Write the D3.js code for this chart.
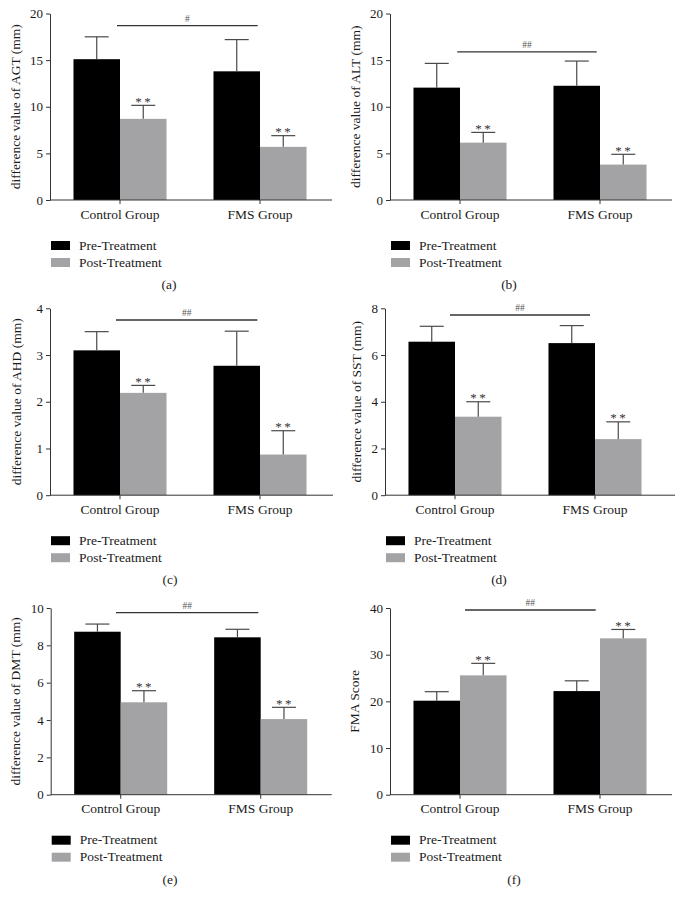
<!DOCTYPE html>
<html><head><meta charset="utf-8">
<script src="https://cdn.jsdelivr.net/npm/d3@7"></script>
<style>
html,body{margin:0;padding:0;background:#fff;}
text{font-family:"Liberation Serif","Times New Roman",serif;fill:#1a1a1a;}
</style></head>
<body><svg id="c" width="680" height="905"></svg>
<script>
// ---------- data ----------
const groups = ["Control Group", "FMS Group"];
const seriesNames = ["Pre-Treatment", "Post-Treatment"];
const seriesColors = ["#000000", "#a3a3a5"];
const panelLetters = ["(a)", "(b)", "(c)", "(d)", "(e)", "(f)"];
const yLabels = ["difference value of AGT (mm)", "difference value of ALT (mm)",
  "difference value of AHD (mm)", "difference value of SST (mm)",
  "difference value of DMT (mm)", "FMA Score"];
const yMax = [20, 20, 4, 8, 10, 40];
const yTicks = [[0,5,10,15,20],[0,5,10,15,20],[0,1,2,3,4],[0,2,4,6,8],[0,2,4,6,8,10],[0,10,20,30,40]];
const preMean  = [[15.1,13.8],[12.05,12.25],[3.1,2.77],[6.57,6.51],[8.73,8.43],[20.14,22.2]];
const preSD    = [[2.4,3.4],[2.6,2.65],[0.4,0.74],[0.66,0.75],[0.41,0.43],[1.93,2.2]];
const postMean = [[8.7,5.7],[6.15,3.8],[2.19,0.87],[3.36,2.4],[4.95,4.05],[25.57,33.5]];
const postSD   = [[1.45,1.2],[1.1,1.1],[0.16,0.51],[0.64,0.74],[0.62,0.63],[2.57,1.9]];
const starLabel = "**";
const sigLabels = ["#", "##", "##", "##", "##", "##"];

// ---------- layout ----------
const rows = [[13.5,200],[308.3,495.2],[608,794.7]];
const lefts = [50, 390, 50, 385, 50.7, 390];
const axisLen = [282, 282, 283, 290, 281, 282];
const capX = [169, 509, 170, 499, 170, 514];
const ylabX = [15, 355, 16.7, 356.7, 15, 354];
const sigY = [12.2, 38.4, 11.7, 6.7, 4.7, 2];
const sigX = [[67,207.7],[67.3,206.7],[66,207.3],[65,205],[65.3,207.6],[75,205.7]];

const svg = d3.select("#c");

for (let p = 0; p < 6; p++) {
  const row = Math.floor(p/2);
  const [top, bottom] = rows[row];
  const left = lefts[p];
  const g = svg.append("g");

  const x0 = d3.scaleBand().domain(groups).range([left, left+280]).padding(0);
  const x1 = d3.scaleBand().domain(seriesNames).range([0, x0.bandwidth()]).paddingInner(0).paddingOuter(0.505);
  const y = d3.scaleLinear().domain([0, yMax[p]]).range([bottom, top]);

  const data = [];
  groups.forEach((grp, i) => {
    data.push({grp, s: seriesNames[0], v: preMean[p][i], e: preSD[p][i], c: seriesColors[0]});
    data.push({grp, s: seriesNames[1], v: postMean[p][i], e: postSD[p][i], c: seriesColors[1], star: true});
  });

  // bars
  g.selectAll("rect.bar").data(data).join("rect")
    .attr("x", d => x0(d.grp) + x1(d.s))
    .attr("y", d => y(d.v))
    .attr("width", x1.bandwidth())
    .attr("height", d => y(0) - y(d.v))
    .attr("fill", d => d.c);

  // error bars (upper only)
  const eb = g.selectAll("g.eb").data(data).join("g");
  eb.append("line")
    .attr("x1", d => x0(d.grp) + x1(d.s) + x1.bandwidth()/2)
    .attr("x2", d => x0(d.grp) + x1(d.s) + x1.bandwidth()/2)
    .attr("y1", d => y(d.v)).attr("y2", d => y(d.v + d.e))
    .attr("stroke", "#4a4a4a").attr("stroke-width", 1.2);
  eb.append("line")
    .attr("x1", d => x0(d.grp) + x1(d.s) + x1.bandwidth()/2 - 12)
    .attr("x2", d => x0(d.grp) + x1(d.s) + x1.bandwidth()/2 + 12)
    .attr("y1", d => y(d.v + d.e)).attr("y2", d => y(d.v + d.e))
    .attr("stroke", "#4a4a4a").attr("stroke-width", 1.2);
  eb.filter(d => d.star).append("text")
    .attr("x", d => x0(d.grp) + x1(d.s) + x1.bandwidth()/2 + 1)
    .attr("y", d => y(d.v + d.e) + 0.5)
    .attr("text-anchor", "middle")
    .attr("font-size", 13).attr("letter-spacing", 2.5)
    .style("fill", "#333")
    .text(starLabel);

  // y axis
  const ya = g.append("g").attr("transform", `translate(${left},0)`)
    .call(d3.axisLeft(y).tickValues(yTicks[p]).tickFormat(d3.format("d")).tickSize(4).tickSizeOuter(0).tickPadding(3));
  ya.selectAll("text").attr("font-size", 13).style("font-family", '"Liberation Serif",serif').style("fill","#1a1a1a");
  ya.selectAll("line,path").attr("stroke", "#333");

  // x axis
  const xa = g.append("g").attr("transform", `translate(0,${bottom})`)
    .call(d3.axisBottom(x0).tickSize(4).tickSizeOuter(0).tickPadding(5));
  xa.select(".domain").remove();
  xa.selectAll("line").attr("stroke", "#333");
  xa.selectAll("text").attr("font-size", 13.5).style("font-family", '"Liberation Serif",serif').style("fill","#1a1a1a");
  g.append("line").attr("x1", left).attr("x2", left + axisLen[p])
    .attr("y1", bottom).attr("y2", bottom).attr("stroke", "#333").attr("stroke-width", 1);

  // y label
  g.append("text")
    .attr("transform", `translate(${ylabX[p]},${(top+bottom)/2}) rotate(-90)`)
    .attr("text-anchor", "middle").attr("dominant-baseline", "central")
    .attr("font-size", 13.5).text(yLabels[p]);

  // significance line
  g.append("line").attr("x1", left + sigX[p][0]).attr("x2", left + sigX[p][1])
    .attr("y1", top + sigY[p]).attr("y2", top + sigY[p])
    .attr("stroke", "#333").attr("stroke-width", 1.3);
  g.append("text").attr("x", left + (sigX[p][0]+sigX[p][1])/2).attr("y", top + sigY[p] - 4)
    .attr("text-anchor", "middle").attr("font-size", 9.5).style("fill", "#555")
    .text(sigLabels[p]);

  // legend
  seriesNames.forEach((s, i) => {
    g.append("rect").attr("x", left + 1).attr("y", bottom + 41 + i*17)
      .attr("width", 19).attr("height", 9).attr("fill", seriesColors[i]);
    g.append("text").attr("x", left + 29).attr("y", bottom + 49.5 + i*17)
      .attr("font-size", 13.5).text(s);
  });

  // caption
  g.append("text").attr("x", capX[p]).attr("y", bottom + 89)
    .attr("text-anchor", "middle").attr("font-size", 13.5).text(panelLetters[p]);
}
</script></body></html>
